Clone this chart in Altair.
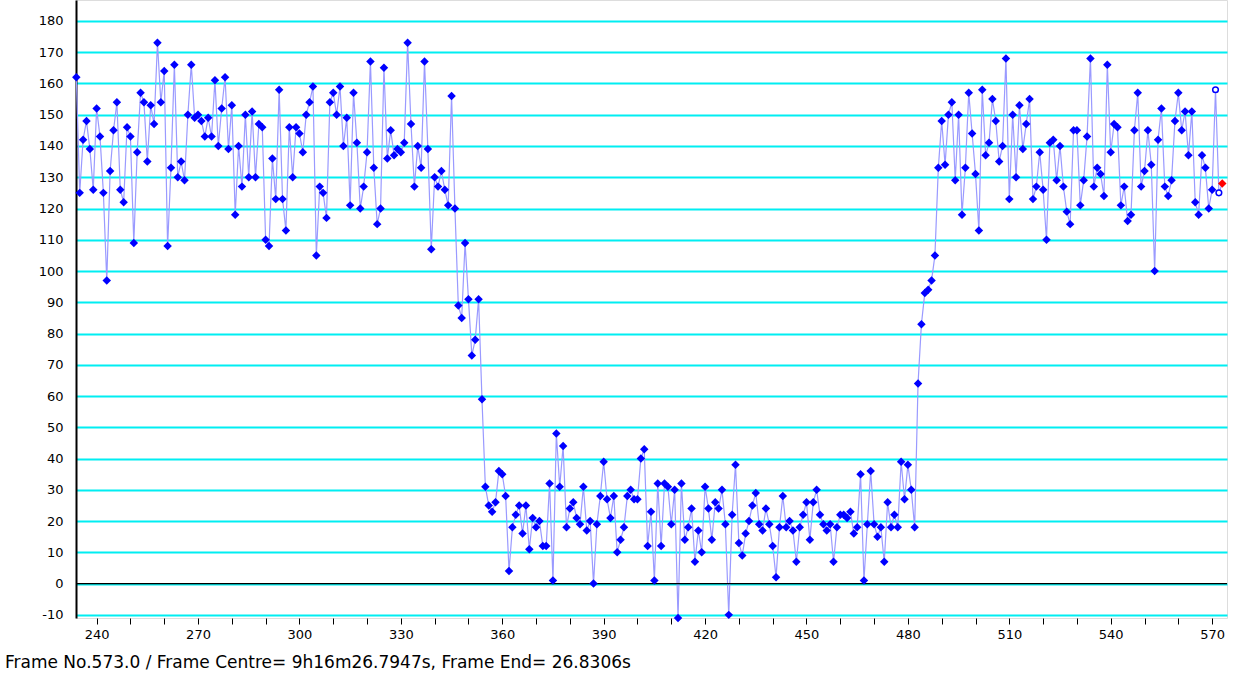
import altair as alt
import pandas as pd

start_frame = 234
values = [
    162,125,142,148,139,126,152,143,125,97,132,145,154,126,122,146,143,109,138,157,154,135,153,147,173,154,164,108,133,166,
    130,135,129,
    150,166,149,150,148,143,149,143,161,140,152,162,139,153,118,140,127,150,130,151,130,147,146,110,108,136,123,158,123,
    113,146,130,146,144,138,150,154,159,105,127,125,117,154,157,150,159,140,149,121,157,141,120,127,138,167,133,115,120,165,136,
    145,137,139,138,141,173,147,127,140,133,167,139,107,130,127,132,126,121,156,120,89,85,109,91,73,78,91,59,
    31,25,23,26,36,35,28,4,18,22,25,16,25,11,21,18,20,12,12,32,1,48,31,44,18,24,26,21,19,31,17,20,0,19,
    28,39,27,21,28,10,14,18,28,30,27,27,40,43,12,23,1,32,12,32,31,19,30,-11,32,14,18,24,7,17,10,
    31,24,14,26,24,30,19,-10,22,38,13,9,16,20,25,29,19,17,24,19,12,2,18,28,18,20,17,7,18,22,26,
    14,26,30,22,19,17,19,7,18,22,22,21,23,16,18,35,1,19,36,19,15,18,7,26,18,22,18,39,27,38,30,18,
    64,83,93,94,97,105,133,148,134,150,154,129,150,118,133,157,144,131,113,
    158,137,141,155,148,135,140,168,123,150,130,153,139,147,155,123,127,138,126,110,141,142,129,140,127,119,115,145,145,121,129,143,168,127,
    133,131,124,166,138,147,146,121,127,116,118,145,157,127,132,145,134,100,142,152,127,124,129,148,157,145,151,137,151,122,118,
    137,133,120,126,158,125,128,
]
frames = list(range(start_frame, start_frame + len(values)))
kinds = ["normal"] * (len(values) - 3) + ["open", "open", "current"]

x_ticks = list(range(240, 571, 10))
y_ticks = list(range(-10, 181, 10))
footer = "Frame No.573.0 / Frame Centre= 9h16m26.7947s,  Frame End= 26.8306s"

df = pd.DataFrame({"frame": frames, "value": values, "kind": kinds})

FONT = "DejaVu Sans"
x_scale = alt.Scale(domain=[233.9, 574.4], nice=False, zero=False)
y_scale = alt.Scale(domain=[-11, 186.7], nice=False, zero=False)

x_enc = alt.X("frame:Q", scale=x_scale, title=None,
              axis=alt.Axis(values=x_ticks, tickCount=200, grid=False, domain=False, labelOverlap=False,
                            labelExpr="datum.value % 30 == 0 ? '' + datum.value : ''",
                            tickColor="black", tickSize=6, labelFont=FONT,
                            labelFontSize=13, labelColor="black", labelPadding=4))
y_enc = alt.Y("value:Q", scale=y_scale, title=None,
              axis=alt.Axis(values=y_ticks, tickCount=200, grid=True, gridColor="#00eef2", gridWidth=1.8,
                            gridOpacity=1, domain=True, domainColor="black", domainWidth=2,
                            labelOverlap=False, ticks=False, labelPadding=13, labelFont=FONT,
                            labelExpr="'' + datum.value",
                            labelFontSize=13, labelColor="black"))

base = alt.Chart(df)
line = base.mark_line(color="#9a9aff", strokeWidth=1.2).encode(x=x_enc, y=y_enc)

zero = alt.Chart(pd.DataFrame({"v": [0]})).mark_rule(color="black", strokeWidth=1.2).encode(
    y=alt.Y("v:Q", scale=y_scale))

pts = base.transform_filter(alt.datum.kind == "normal").mark_point(
    shape="diamond", filled=True, size=72, color="#0000ff", opacity=1).encode(
    x=alt.X("frame:Q", scale=x_scale), y=alt.Y("value:Q", scale=y_scale))
open_pts = base.transform_filter(alt.datum.kind == "open").mark_point(
    shape="circle", filled=False, size=32, color="#0000ff", fill="white", strokeWidth=1.5, opacity=1).encode(
    x=alt.X("frame:Q", scale=x_scale), y=alt.Y("value:Q", scale=y_scale))
cur_pts = base.transform_filter(alt.datum.kind == "current").mark_point(
    shape="diamond", filled=True, size=72, color="#ff0000", opacity=1).encode(
    x=alt.X("frame:Q", scale=x_scale), y=alt.Y("value:Q", scale=y_scale))

foot = alt.Chart(pd.DataFrame({"t": [footer]})).mark_text(
    align="left", baseline="middle", font=FONT, fontSize=17, color="black").encode(
    text="t:N", x=alt.value(-71), y=alt.value(663))

chart = alt.layer(line, zero, pts, open_pts, cur_pts, foot).properties(
    width=1151, height=618,
    autosize=alt.AutoSizeParams(type="none"),
    padding={"left": 76, "top": 0, "right": 12, "bottom": 60},
).configure_view(stroke=None).configure(background="white")

chart.save("out.html", embed_options={"renderer": "svg", "actions": False})
